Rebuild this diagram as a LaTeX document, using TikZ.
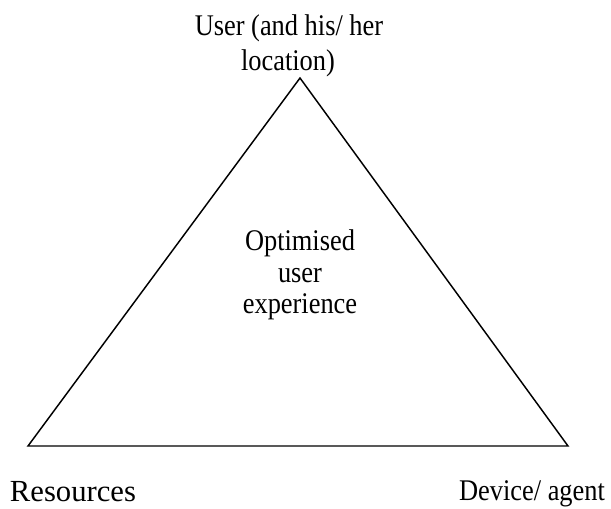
\documentclass[tikz,border=0pt]{standalone}
\usepackage{fontspec}
\setmainfont[FakeStretch=0.88]{Liberation Serif}
\newfontfamily\widefont{Liberation Serif}
\tikzset{every picture/.style={line width=0.75pt}}
\tikzset{
  corner label/.style={anchor=base, inner sep=0pt, font=\fontsize{22.5}{26}\selectfont, align=center},
  centre label/.style={anchor=center, inner sep=0pt, font=\fontsize{22.5}{23.5}\selectfont, align=center},
  triangle edge/.style={line width=1.1pt, line join=miter}
}
\begin{document}
\begin{tikzpicture}[x=0.75pt,y=0.75pt,yscale=-1,xscale=1]
		\path (0,0) rectangle (611,508); %set diagram size

		% corners of the triangle
		\coordinate (top) at (300,78);
		\coordinate (left) at (28,446);
		\coordinate (right) at (568,446);

		\draw [triangle edge] (top) -- (right) -- (left) -- cycle ;

		% labels
		\node [corner label] (user) at (289,35) {User (and his/ her};
		\node [corner label] (userloc) at (288,70) {location)};
		\node [centre label] (optimised) at (300,275) {Optimised\\user\\experience};
		\node [corner label, font=\widefont\fontsize{23}{26}\selectfont] (resources) at (73,501) {Resources};
		\node [corner label] (device) at (532,500) {Device/ agent};

\end{tikzpicture}
\end{document}
